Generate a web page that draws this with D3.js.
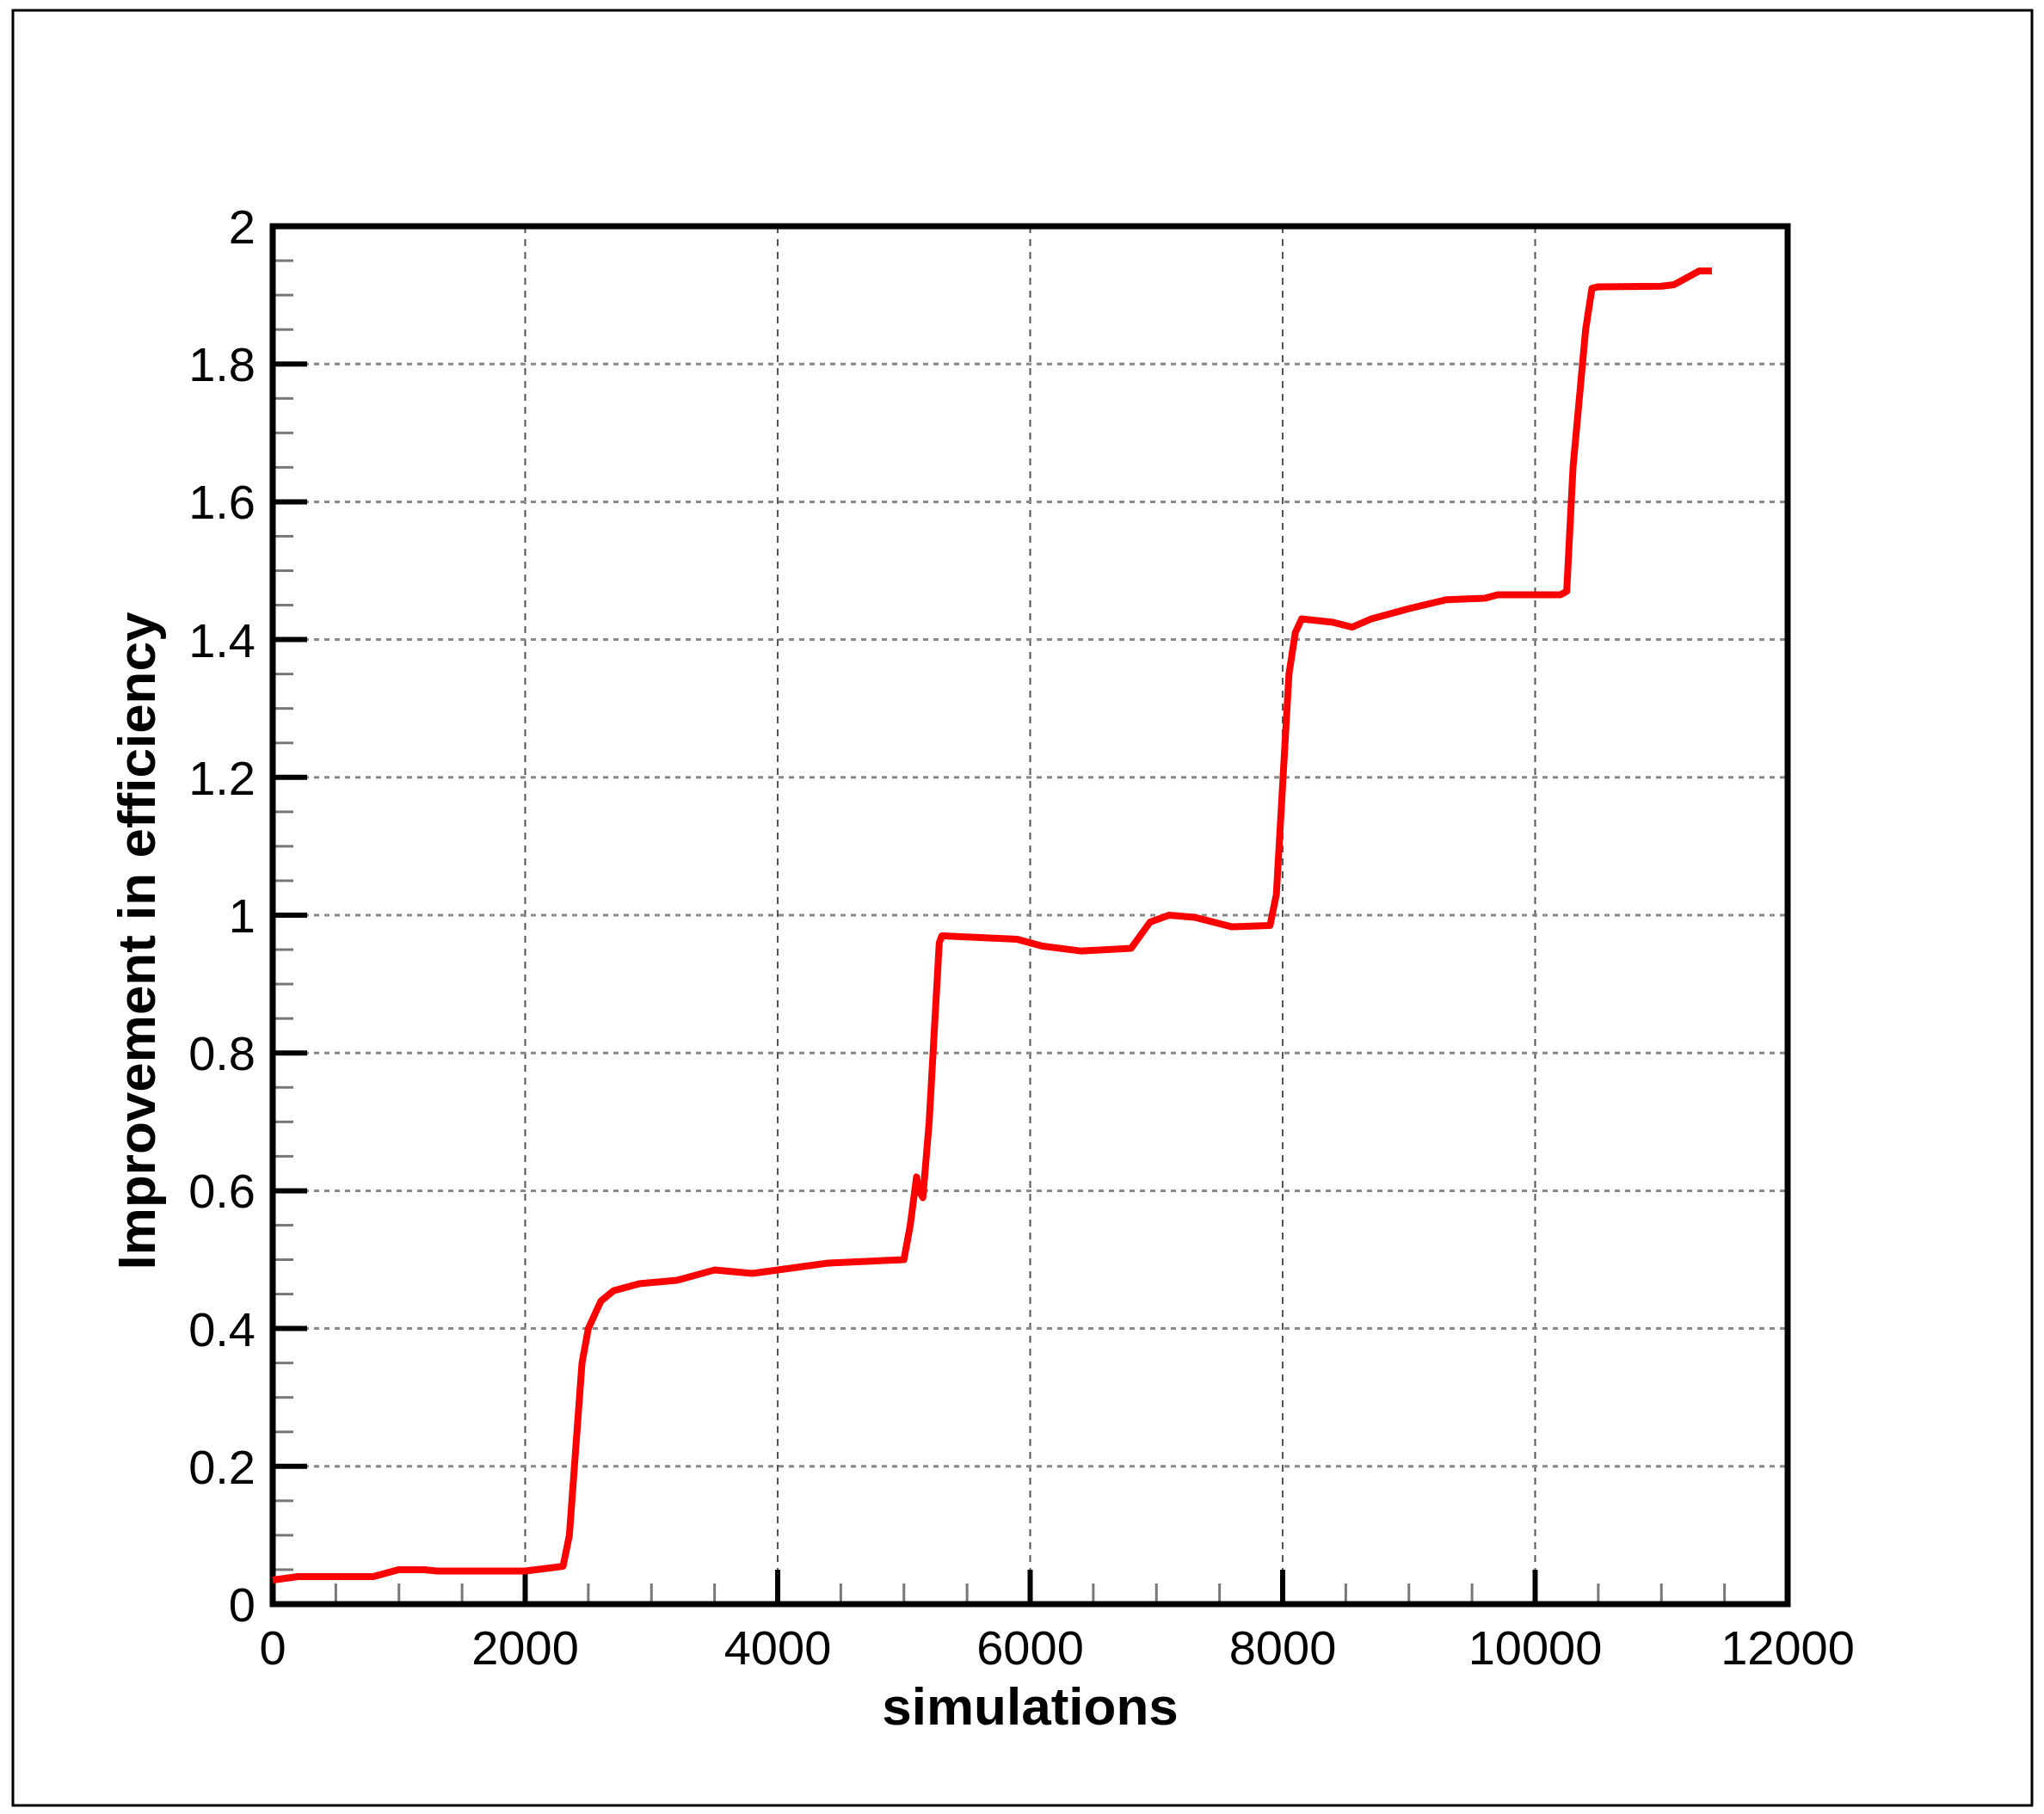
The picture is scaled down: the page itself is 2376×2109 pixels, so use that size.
<!DOCTYPE html>
<html>
<head>
<meta charset="utf-8">
<script src="https://cdn.jsdelivr.net/npm/d3@7"></script>
<style>
  body { margin: 0; background: #fff; }
  text { font-family: "Liberation Sans", Arial, sans-serif; }
</style>
</head>
<body>
<svg id="chart" width="2376" height="2109"></svg>
<script>
const simulations = [0, 200, 800, 1000, 1200, 1300, 2000, 2300, 2350, 2450, 2500, 2600, 2700, 2900, 3200, 3500, 3800, 4400, 5000, 5050, 5100, 5120, 5150, 5200, 5280, 5300, 5900, 6100, 6400, 6800, 6950, 7100, 7300, 7600, 7900, 7950, 8050, 8100, 8150, 8400, 8550, 8700, 9000, 9300, 9600, 9700, 10200, 10250, 10300, 10400, 10450, 10500, 11000, 11100, 11200, 11300, 11400];
const improvement = [0.035, 0.04, 0.04, 0.05, 0.05, 0.048, 0.048, 0.055, 0.1, 0.35, 0.4, 0.44, 0.455, 0.465, 0.47, 0.485, 0.48, 0.495, 0.5, 0.55, 0.62, 0.6, 0.59, 0.7, 0.96, 0.97, 0.965, 0.955, 0.948, 0.952, 0.99, 1.0, 0.997, 0.983, 0.985, 1.03, 1.35, 1.41, 1.43, 1.425, 1.418, 1.43, 1.445, 1.458, 1.46, 1.465, 1.465, 1.47, 1.65, 1.85, 1.91, 1.912, 1.913, 1.915, 1.925, 1.935, 1.935];
const xTicks = [0, 2000, 4000, 6000, 8000, 10000, 12000];
const yTicks = [0, 0.2, 0.4, 0.6, 0.8, 1, 1.2, 1.4, 1.6, 1.8, 2];

(function () {
  const svg = d3.select("#chart");
  const pl = 317, pr = 2078, pt = 263, pb = 1865;

  svg.append("rect").attr("x", 15).attr("y", 12).attr("width", 2347).attr("height", 2087)
    .attr("fill", "none").attr("stroke", "#000").attr("stroke-width", 3);

  const x = d3.scaleLinear().domain([0, 12000]).range([pl, pr]);
  const y = d3.scaleLinear().domain([0, 2]).range([pb, pt]);

  // grid
  svg.append("g").selectAll("line").data(xTicks.slice(1, -1)).join("line")
    .attr("x1", d => x(d)).attr("x2", d => x(d)).attr("y1", pt).attr("y2", pb)
    .attr("stroke", "#555").attr("stroke-width", 2).attr("stroke-dasharray", "8,7");
  svg.append("g").selectAll("line").data(yTicks.slice(1, -1)).join("line")
    .attr("x1", pl).attr("x2", pr).attr("y1", d => y(d)).attr("y2", d => y(d))
    .attr("stroke", "#888").attr("stroke-width", 3).attr("stroke-dasharray", "6,6");

  // minor + major ticks (inside)
  const xMinor = d3.range(0, 12001, 500);
  const yMinor = d3.range(0, 41).map(i => i * 0.05);
  const tg = svg.append("g");
  tg.selectAll(".xm").data(xMinor).join("line")
    .attr("x1", d => x(d)).attr("x2", d => x(d))
    .attr("y1", pb).attr("y2", d => pb - (d % 2000 === 0 ? 40 : 24))
    .attr("stroke", d => d % 2000 === 0 ? "#000" : "#777")
    .attr("stroke-width", d => d % 2000 === 0 ? 6 : 3);
  tg.selectAll(".ym").data(yMinor).join("line")
    .attr("y1", d => y(d)).attr("y2", d => y(d))
    .attr("x1", pl).attr("x2", (d, i) => pl + (i % 4 === 0 ? 40 : 24))
    .attr("stroke", (d, i) => i % 4 === 0 ? "#000" : "#777")
    .attr("stroke-width", (d, i) => i % 4 === 0 ? 6 : 3);

  // frame
  svg.append("rect").attr("x", pl).attr("y", pt).attr("width", pr - pl).attr("height", pb - pt)
    .attr("fill", "none").attr("stroke", "#000").attr("stroke-width", 7);

  // tick labels
  svg.append("g").selectAll("text").data(xTicks).join("text")
    .attr("x", d => x(d)).attr("y", pb + 70).attr("text-anchor", "middle")
    .attr("font-size", 56).text(d => d);
  svg.append("g").selectAll("text").data(yTicks).join("text")
    .attr("x", pl - 20).attr("y", d => y(d) + 20).attr("text-anchor", "end")
    .attr("font-size", 56).text(d => d3.format("~g")(d));

  // titles
  svg.append("text").attr("x", (pl + pr) / 2).attr("y", pb + 140)
    .attr("text-anchor", "middle").attr("font-size", 62).attr("font-weight", "bold").text("simulations");
  svg.append("text").attr("transform", `translate(180,${(pt + pb) / 2 + 30}) rotate(-90)`)
    .attr("text-anchor", "middle").attr("font-size", 62).attr("font-weight", "bold").text("Improvement in efficiency");

  // series
  const line = d3.line().x((d, i) => x(simulations[i])).y(d => y(d));
  svg.append("path").datum(improvement).attr("d", line)
    .attr("fill", "none").attr("stroke", "#ff0000").attr("stroke-width", 8).attr("stroke-linejoin", "round");
})();
</script>
</body>
</html>
